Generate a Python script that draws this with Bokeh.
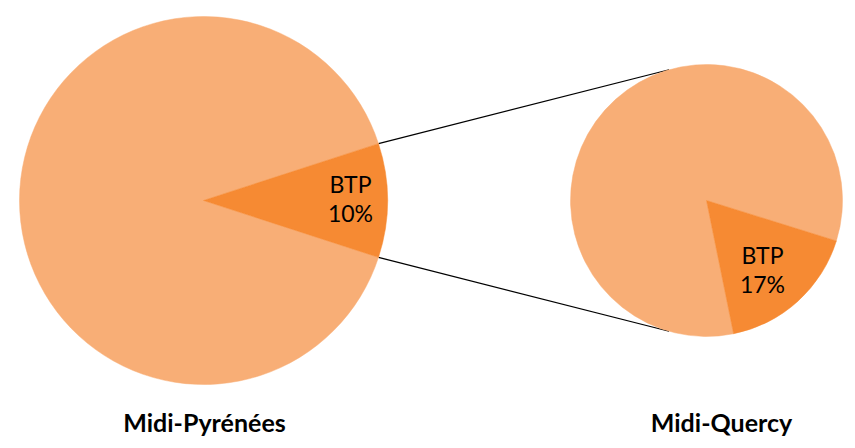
import math
from bokeh.plotting import figure
from bokeh.models import Range1d
from bokeh.core.properties import value
from bokeh.embed import file_html
from bokeh.resources import INLINE

# ---- data ----
regions = ["Midi-Pyrénées", "Midi-Quercy"]
sector = "BTP"
btp_share = [10, 17]          # percent
other_share = [90, 83]        # percent

# ---- layout (pixel-like coordinates, y up) ----
W, H = 855, 448
centers = [(203, 248), (706, 248)]
radii = [184, 136]
# angle (deg) at which the BTP slice ends (counter-clockwise end)
btp_end_deg = [btp_share[0] / 100 * 360 / 2, -17.3]   # left slice centred on 0
connector_deg = [106, -106]

LIGHT = "#F8AE76"
DARK = "#F68A33"
FONT = "Lato"

p = figure(width=W, height=H, output_backend="svg", toolbar_location=None,
           x_range=Range1d(0, W), y_range=Range1d(0, H),
           min_border=0, min_border_left=0, min_border_right=0,
           min_border_top=0, min_border_bottom=0)
p.axis.visible = False
p.grid.visible = False
p.outline_line_color = None
p.background_fill_color = "white"

# connector lines (drawn under the second pie)
cx0, cy0 = centers[0]
r0 = radii[0]
cx1, cy1 = centers[1]
r1 = radii[1]
half = math.radians(btp_end_deg[0])
for sgn, cdeg in zip([1, -1], connector_deg):
    xa = cx0 + r0 * math.cos(sgn * half)
    ya = cy0 + r0 * math.sin(sgn * half)
    xb = cx1 + r1 * math.cos(math.radians(cdeg))
    yb = cy1 + r1 * math.sin(math.radians(cdeg))
    p.line([xa, xb], [ya, yb], line_color="black", line_width=1.2)

for i in range(2):
    cx, cy = centers[i]
    r = radii[i]
    end = math.radians(btp_end_deg[i])
    start = end - math.radians(btp_share[i] / 100 * 360)
    p.wedge(x=[cx], y=[cy], radius=r, start_angle=end,
            end_angle=start + 2 * math.pi,
            fill_color=LIGHT, line_color=LIGHT, line_width=0.5)
    p.wedge(x=[cx], y=[cy], radius=r, start_angle=start, end_angle=end,
            fill_color=DARK, line_color=DARK, line_width=0.5)

# slice labels
label_x = [350, 762]
label_y_top = [265, 194]
for i in range(2):
    lx, ly = label_x[i], label_y_top[i]
    p.text(x=[lx, lx], y=[ly, ly - 29],
           text=[sector, f"{btp_share[i]}%"],
           text_font=value(FONT), text_font_size="23px",
           text_align="center", text_baseline="middle", text_color="black")

# titles
title_x = [204, 721]
p.text(x=title_x, y=[27, 27], text=regions,
       text_font=value(FONT), text_font_size="25px", text_font_style="bold",
       text_align="center", text_baseline="middle", text_color="black")

open("out.html", "w").write(file_html(p, INLINE))
